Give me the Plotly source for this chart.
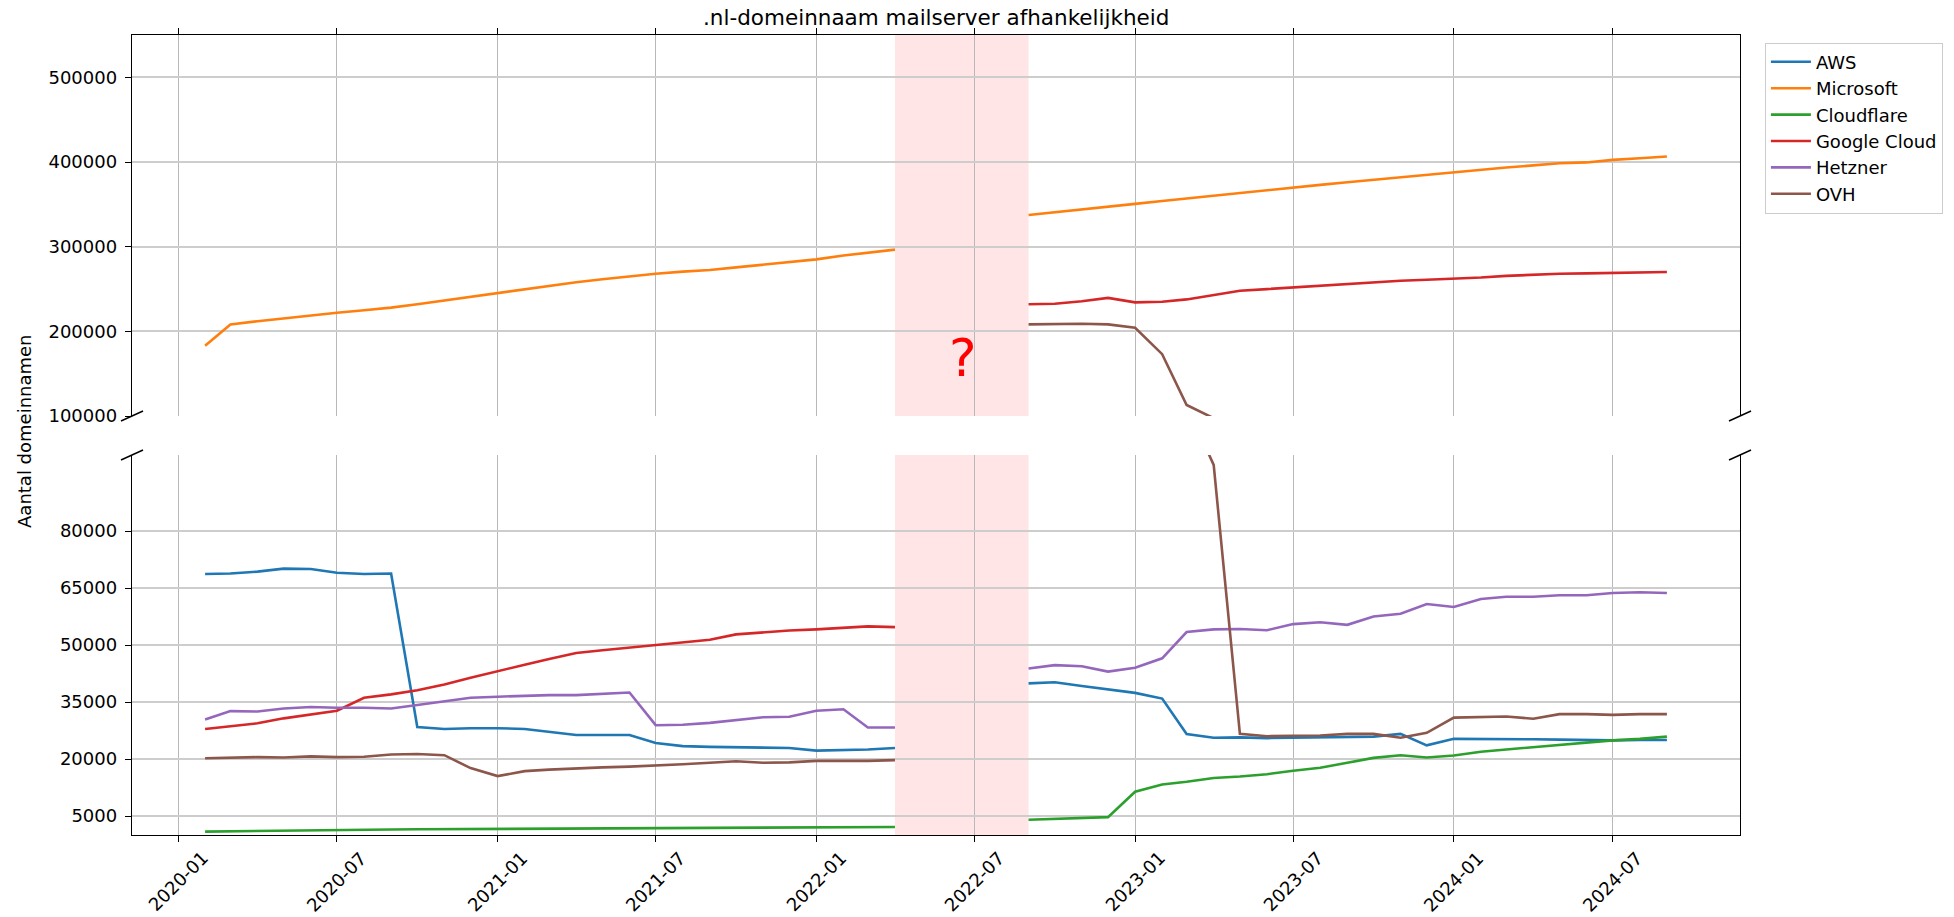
import plotly.graph_objects as go

FONT = "DejaVu Sans"

months = [
    "2020-02-01", "2020-03-01", "2020-04-01", "2020-05-01", "2020-06-01", "2020-07-01",
    "2020-08-01", "2020-09-01", "2020-10-01", "2020-11-01", "2020-12-01",
    "2021-01-01", "2021-02-01", "2021-03-01", "2021-04-01", "2021-05-01", "2021-06-01",
    "2021-07-01", "2021-08-01", "2021-09-01", "2021-10-01", "2021-11-01", "2021-12-01",
    "2022-01-01", "2022-02-01", "2022-03-01", "2022-04-01", "2022-05-01", "2022-06-01",
    "2022-07-01", "2022-08-01", "2022-09-01", "2022-10-01", "2022-11-01", "2022-12-01",
    "2023-01-01", "2023-02-01", "2023-03-01", "2023-04-01", "2023-05-01", "2023-06-01",
    "2023-07-01", "2023-08-01", "2023-09-01", "2023-10-01", "2023-11-01", "2023-12-01",
    "2024-01-01", "2024-02-01", "2024-03-01", "2024-04-01", "2024-05-01", "2024-06-01",
    "2024-07-01", "2024-08-01", "2024-09-01",
]

N = None
aws = [68700, 68800, 69300, 70100, 70000, 69000, 68700, 68800, 28400, 27900, 28100,
       28100, 27900, 27100, 26300, 26300, 26300, 24200, 23400, 23200, 23100, 23000, 22900,
       22200, 22400, 22500, 22900, N, N, N, N, 39900, 40200, 39200, 38300,
       37400, 35900, 26600, 25600, 25700, 25500, 25600, 25800, 25900, 25900, 26600, 23600,
       25300, 25300, 25300, 25200, 25100, 25000, 24900, 25000, 25000]
microsoft = [183000, 208000, 212000, 215500, 219000, 222000, 225000, 228000, 232000, 236500, 240500,
             244500, 249000, 253500, 258000, 261500, 265000, 268000, 270500, 272500, 275500, 278500, 281500,
             285000, 289500, 293000, 296500, N, N, N, N, 337500, 340500, 344000, 347000,
             350500, 354000, 357000, 360500, 364000, 367000, 370000, 373000, 376000, 379000, 382000, 385000,
             388000, 390500, 393500, 396000, 398500, 399500, 402500, 404500, 406500]
cloudflare = [900, 1000, 1100, 1200, 1280, 1340, 1400, 1450, 1500, 1530, 1560,
              1600, 1640, 1680, 1710, 1740, 1760, 1780, 1790, 1800, 1820, 1840, 1850,
              1860, 1900, 1950, 2100, N, N, N, N, 4000, 4200, 4400, 4700,
              11400, 13300, 14000, 15000, 15400, 16000, 16900, 17700, 19000, 20300, 21000, 20400,
              20900, 21900, 22500, 23100, 23700, 24300, 24900, 25300, 25900]
google = [27900, 28600, 29400, 30700, 31700, 32700, 36100, 37000, 38100, 39600, 41400,
          43000, 44800, 46300, 47900, 48600, 49300, 50000, 50600, 51400, 52800, 53300, 53800,
          54100, 54600, 54900, 54700, N, N, N, N, 232000, 232500, 235500, 239500,
          234200, 235000, 237700, 242800, 247900, 249900, 251900, 254300, 256200, 257800, 259800, 261000,
          262000, 263500, 265500, 267000, 268000, 268500, 269000, 269500, 270000]
hetzner = [30400, 32600, 32500, 33300, 33700, 33500, 33500, 33300, 34200, 35200, 36100,
           36400, 36700, 36800, 36800, 37100, 37500, 28900, 29000, 29500, 30300, 31000, 31100,
           32700, 33100, 28300, 28300, N, N, N, N, 43800, 44700, 44400, 43000,
           44000, 46500, 53400, 54100, 54200, 53900, 55500, 56000, 55300, 57500, 58200, 60800,
           60000, 62100, 62700, 62700, 63100, 63100, 63700, 63900, 63700]
ovh = [20200, 20400, 20500, 20400, 20700, 20500, 20600, 21200, 21300, 21000, 17600,
       15500, 16800, 17200, 17600, 17800, 18000, 18200, 18600, 19000, 19400, 19000, 19100,
       19500, 19500, 19500, 19700, N, N, N, N, 208200, 208600, 209000, 208200,
       204200, 173000, 113000, 97400, 26600, 26000, 26100, 26200, 26600, 26600, 25600, 26900,
       30900, 31100, 31200, 30600, 31800, 31800, 31600, 31800, 31800]

series_names = ["AWS", "Microsoft", "Cloudflare", "Google Cloud", "Hetzner", "OVH"]
series_values = [aws, microsoft, cloudflare, google, hetzner, ovh]
series_colors = ["#1f77b4", "#ff7f0e", "#2ca02c", "#d62728", "#9467bd", "#8c564b"]

x_tick_vals = ["2020-01-01", "2020-07-01", "2021-01-01", "2021-07-01", "2022-01-01",
               "2022-07-01", "2023-01-01", "2023-07-01", "2024-01-01", "2024-07-01"]
x_tick_labels = ["2020-01", "2020-07", "2021-01", "2021-07", "2022-01",
                 "2022-07", "2023-01", "2023-07", "2024-01", "2024-07"]
top_y_ticks = [100000, 200000, 300000, 400000, 500000]
bottom_y_ticks = [5000, 20000, 35000, 50000, 65000, 80000]
top_y_range = [100000, 550000]
bottom_y_range = [0, 100000]
gap_start, gap_end = "2022-04-01", "2022-09-01"
x_range = ["2019-11-09 07:00", "2024-11-23 17:00"]

title_text = ".nl-domeinnaam mailserver afhankelijkheid"
ylabel_text = "Aantal domeinnamen"

fig = go.Figure()
for name, vals, col in zip(series_names, series_values, series_colors):
    fig.add_trace(go.Scatter(x=months, y=vals, mode="lines", name=name,
                             line=dict(color=col, width=2.6), xaxis="x2", yaxis="y2",
                             legendgroup=name, showlegend=True))
for name, vals, col in zip(series_names, series_values, series_colors):
    fig.add_trace(go.Scatter(x=months, y=vals, mode="lines", name=name,
                             line=dict(color=col, width=2.6), xaxis="x", yaxis="y",
                             legendgroup=name, showlegend=False))

TOP_LO = 0.52375
BOT_HI = 0.475

common_x = dict(type="date", range=x_range, tickvals=x_tick_vals, showgrid=True,
                gridcolor="#b8b8b8", gridwidth=1.2, showline=True, linecolor="black",
                linewidth=1.4, ticks="outside", ticklen=6, tickwidth=1.4, tickcolor="black",
                showticklabels=False, zeroline=False, automargin=False)
common_y = dict(showgrid=True, gridcolor="#cdcdcd", gridwidth=1.5, showline=True,
                linecolor="black", linewidth=1.4, mirror=True, ticks="outside", ticklen=6,
                tickwidth=1.4, tickcolor="black", zeroline=False, automargin=False,
                tickfont=dict(family=FONT, size=18, color="black"), ticklabelstandoff=4)

fig.update_layout(
    width=1954, height=917,
    margin=dict(l=132, r=214, t=35, b=82, autoexpand=False),
    paper_bgcolor="white", plot_bgcolor="white",
    font=dict(family=FONT, size=18, color="black"),
    xaxis=dict(anchor="y", **common_x),
    xaxis2=dict(anchor="y2", side="top", matches="x", **common_x),
    yaxis=dict(domain=[0, BOT_HI], range=bottom_y_range, tickvals=bottom_y_ticks,
               ticktext=[str(v) for v in bottom_y_ticks], **common_y),
    yaxis2=dict(domain=[TOP_LO, 1], range=top_y_range, tickvals=top_y_ticks,
                ticktext=[str(v) for v in top_y_ticks], **common_y),
    legend=dict(x=1.0155, y=0.9905, xanchor="left", yanchor="top",
                bgcolor="rgba(255,255,255,0.8)", bordercolor="#cccccc", borderwidth=1,
                font=dict(family=FONT, size=18, color="black"), itemwidth=40,
                tracegroupgap=0),
    showlegend=True,
)

shapes = []
for xr, yr in (("x", "y domain"), ("x2", "y2 domain")):
    shapes.append(dict(type="rect", xref=xr, yref=yr, x0=gap_start, x1=gap_end, y0=0, y1=1,
                       fillcolor="rgba(255,0,0,0.1)", line=dict(width=0), layer="below"))
for xa in (0, 1):
    for ya in (TOP_LO, BOT_HI):
        shapes.append(dict(type="line", xref="paper", yref="paper", xsizemode="pixel",
                           ysizemode="pixel", xanchor=xa, yanchor=ya, x0=-11, x1=11,
                           y0=-5, y1=5, line=dict(color="black", width=1.4)))
fig.update_layout(shapes=shapes)

annotations = []
for tv, tl in zip(x_tick_vals, x_tick_labels):
    annotations.append(dict(x=tv, y=-0.0585, xref="x", yref="paper", text=tl, showarrow=False,
                            textangle=-45, xanchor="center", yanchor="middle",
                            font=dict(family=FONT, size=18, color="black")))
annotations.append(dict(x=0.5, y=1.0225, xref="paper", yref="paper", text=title_text,
                        showarrow=False, xanchor="center", yanchor="middle",
                        font=dict(family=FONT, size=21.5, color="black")))
annotations.append(dict(x=-0.0672, y=0.505, xref="paper", yref="paper", text=ylabel_text,
                        showarrow=False, textangle=-90, xanchor="center", yanchor="middle",
                        font=dict(family=FONT, size=18, color="black")))
annotations.append(dict(x="2022-06-18", y=168000, xref="x2", yref="y2", text="?",
                        showarrow=False, xanchor="center", yanchor="middle",
                        font=dict(family=FONT, size=52, color="red")))
fig.update_layout(annotations=annotations)

fig.write_html("out.html",
               config={"displayModeBar": False},
               post_script="document.body.style.margin='0';"
                           "document.body.style.padding='0';"
                           "document.body.style.overflow='hidden';")
